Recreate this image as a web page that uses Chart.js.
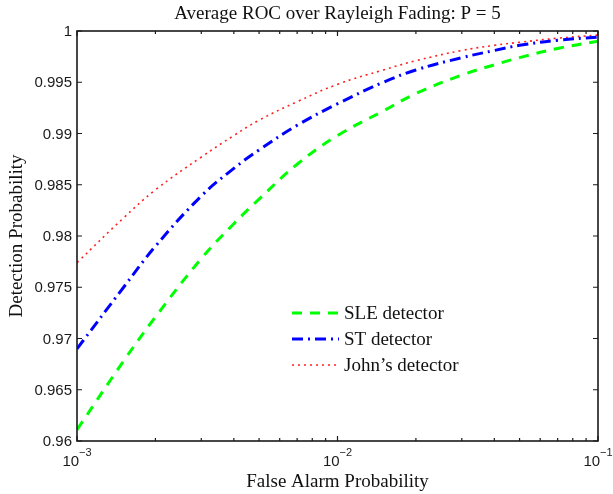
<!DOCTYPE html>
<html>
<head>
<meta charset="utf-8">
<script src="https://cdn.jsdelivr.net/npm/chart.js@4.4.1/dist/chart.umd.min.js"></script>
<style>
    body { margin: 0; background: #fff; }
    #wrap { width: 613px; height: 494px; }
</style>
</head>
<body>
<div id="wrap"><canvas id="rocChart" width="613" height="494"></canvas></div>
<script>
// false alarm probabilities (x) and detection probabilities per detector
const falseAlarm = [0.001, 0.0015, 0.002, 0.003, 0.004, 0.005, 0.007, 0.01, 0.015, 0.02, 0.03, 0.04, 0.05, 0.07, 0.1];
const sleDetector = [0.9611, 0.9677, 0.9721, 0.9778, 0.9812, 0.9836, 0.9870, 0.9898, 0.9922, 0.9939, 0.9957, 0.9967, 0.9974, 0.9983, 0.9990];
const stDetector = [0.9690, 0.9749, 0.9790, 0.9839, 0.9866, 0.9884, 0.9908, 0.9929, 0.9950, 0.9962, 0.9974, 0.9981, 0.9986, 0.9991, 0.9994];
const johnsDetector = [0.9774, 0.9817, 0.9845, 0.9877, 0.9898, 0.9913, 0.9931, 0.9948, 0.9962, 0.9971, 0.9981, 0.9986, 0.9989, 0.9993, 0.9996];

const seriesNames = ["SLE detector", "ST detector", "John\u2019s detector"];
const yTicks = [0.96, 0.965, 0.97, 0.975, 0.98, 0.985, 0.99, 0.995, 1];
const yTickLabels = ["0.96", "0.965", "0.97", "0.975", "0.98", "0.985", "0.99", "0.995", "1"];
const xDecades = [-3, -2, -1];

const SERIF = '"Liberation Serif", "Times New Roman", serif';
const SANS = '"Liberation Sans", Arial, sans-serif';

function toPoints(ys) {
    return falseAlarm.map((x, i) => ({ x: x, y: ys[i] }));
}

// matlab style frame: box, inward ticks on all four sides, labels, title, legend
const matlabFrame = {
    id: 'matlabFrame',
    afterDatasetsDraw(chart) {
        const ctx = chart.ctx;
        const area = chart.chartArea;
        const xs = chart.scales.x;
        const ys = chart.scales.y;

        ctx.save();
        ctx.strokeStyle = '#1a1a1a';
        ctx.lineWidth = 1.6;
        ctx.strokeRect(area.left, area.top, area.right - area.left, area.bottom - area.top);

        // y ticks + labels
        ctx.lineWidth = 1.2;
        ctx.fillStyle = '#1a1a1a';
        ctx.font = '15px ' + SANS;
        ctx.textAlign = 'right';
        ctx.textBaseline = 'middle';
        yTicks.forEach((v, i) => {
            const py = ys.getPixelForValue(v);
            ctx.beginPath();
            ctx.moveTo(area.left, py); ctx.lineTo(area.left + 5, py);
            ctx.moveTo(area.right, py); ctx.lineTo(area.right - 5, py);
            ctx.stroke();
            ctx.fillText(yTickLabels[i], area.left - 5, py + 1);
        });

        // x ticks, major at decades, minor at 2..9
        for (let d = 0; d < xDecades.length; d++) {
            const base = Math.pow(10, xDecades[d]);
            const px = xs.getPixelForValue(base);
            ctx.beginPath();
            ctx.moveTo(px, area.bottom); ctx.lineTo(px, area.bottom - 5);
            ctx.moveTo(px, area.top); ctx.lineTo(px, area.top + 5);
            ctx.stroke();
            if (d < xDecades.length - 1) {
                for (let m = 2; m <= 9; m++) {
                    const mx = xs.getPixelForValue(m * base);
                    ctx.beginPath();
                    ctx.moveTo(mx, area.bottom); ctx.lineTo(mx, area.bottom - 3);
                    ctx.moveTo(mx, area.top); ctx.lineTo(mx, area.top + 3);
                    ctx.stroke();
                }
            }
            // "10" with superscript exponent
            const exp = '\u2212' + Math.abs(xDecades[d]);
            ctx.font = '15px ' + SANS;
            const wBase = ctx.measureText('10').width;
            ctx.font = '11px ' + SANS;
            const wExp = ctx.measureText(exp).width;
            const x0 = px - (wBase + wExp) / 2;
            ctx.textAlign = 'left';
            ctx.textBaseline = 'alphabetic';
            ctx.font = '15px ' + SANS;
            ctx.fillText('10', x0, 466);
            ctx.font = '11px ' + SANS;
            ctx.fillText(exp, x0 + wBase, 456);
        }

        // title and axis titles
        ctx.fillStyle = '#111';
        ctx.font = '19px ' + SERIF;
        ctx.textAlign = 'center';
        ctx.textBaseline = 'alphabetic';
        ctx.fillText('Average ROC over Rayleigh Fading: P = 5', (area.left + area.right) / 2, 19);
        ctx.fillText('False Alarm Probability', (area.left + area.right) / 2, 487);
        ctx.save();
        ctx.translate(22, (area.top + area.bottom) / 2);
        ctx.rotate(-Math.PI / 2);
        ctx.fillText('Detection Probability', 0, 0);
        ctx.restore();

        // legend inside the axes
        const rowY = [313, 339, 365];
        chart.data.datasets.forEach((ds, i) => {
            ctx.save();
            ctx.strokeStyle = ds.borderColor;
            ctx.lineWidth = ds.borderWidth;
            ctx.setLineDash(ds.borderDash);
            ctx.beginPath();
            ctx.moveTo(292, rowY[i]);
            ctx.lineTo(339, rowY[i]);
            ctx.stroke();
            ctx.restore();
            ctx.fillStyle = '#111';
            ctx.font = '19px ' + SERIF;
            ctx.textAlign = 'left';
            ctx.textBaseline = 'middle';
            ctx.fillText(ds.label, 344, rowY[i] + 1);
        });
        ctx.restore();
    }
};

const ctx = document.getElementById('rocChart').getContext('2d');

new Chart(ctx, {
    type: 'line',
    data: {
        datasets: [{
            label: seriesNames[0],
            data: toPoints(sleDetector),
            borderColor: '#00ff00',
            borderWidth: 3,
            borderDash: [10, 8],
        }, {
            label: seriesNames[1],
            data: toPoints(stDetector),
            borderColor: '#0000ff',
            borderWidth: 3,
            borderDash: [11, 5, 2, 5],
        }, {
            label: seriesNames[2],
            data: toPoints(johnsDetector),
            borderColor: '#ff2020',
            borderWidth: 1.6,
            borderDash: [2, 4],
        }]
    },
    options: {
        responsive: false,
        animation: false,
        layout: { padding: { top: 31, right: 15, left: 0, bottom: 0 } },
        elements: {
            point: { radius: 0 },
            line: { tension: 0.4, fill: false }
        },
        plugins: {
            legend: { display: false },
            title: { display: false },
            tooltip: { enabled: false }
        },
        scales: {
            x: {
                type: 'logarithmic',
                min: 0.001,
                max: 0.1,
                grid: { display: false },
                border: { display: false },
                ticks: { display: false },
                afterFit(scale) { scale.height = 53; }
            },
            y: {
                min: 0.96,
                max: 1,
                grid: { display: false },
                border: { display: false },
                ticks: { display: false },
                afterFit(scale) { scale.width = 77; }
            }
        }
    },
    plugins: [matlabFrame]
});
</script>
</body>
</html>
